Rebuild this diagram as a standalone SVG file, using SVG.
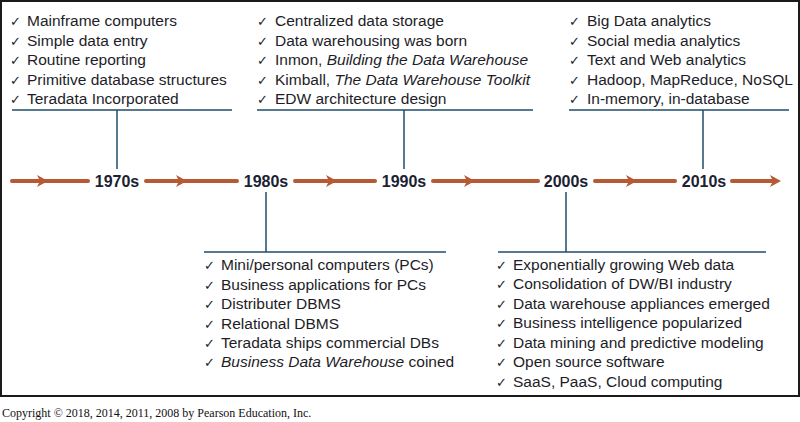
<svg xmlns="http://www.w3.org/2000/svg" width="800" height="422" viewBox="0 0 800 422">
<style>
.item{font-family:"Liberation Sans",Arial,sans-serif;font-size:15.5px;fill:#1d1d28}
.it{font-style:italic}
.chk{font-family:"DejaVu Sans",sans-serif;font-size:13px;fill:#1d1d28}
.year{font-family:"Liberation Sans",Arial,sans-serif;font-size:16px;font-weight:bold;fill:#1b2232;text-anchor:middle}
.conn{stroke:#1f4d6b;stroke-width:1.5;fill:none}
.tl{stroke:#b65a33;stroke-width:4;stroke-linecap:round;fill:none}
.ah{fill:#b65a33}
.copy{font-family:"Liberation Serif","Times New Roman",serif;font-size:12px;fill:#111}
</style>
<defs>
<path id="head" d="M-11,-6 L0,0 L-11,6 L-8,0 Z"/>
</defs>
<rect x="1" y="1" width="798" height="395" fill="#fff" stroke="#1a1a1a" stroke-width="2"/>

<g id="timeline">
<line class="tl" x1="12" y1="181" x2="88" y2="181"/>
<line class="tl" x1="146" y1="181" x2="237" y2="181"/>
<line class="tl" x1="295" y1="181" x2="375" y2="181"/>
<line class="tl" x1="433" y1="181" x2="538" y2="181"/>
<line class="tl" x1="595" y1="181" x2="675" y2="181"/>
<line class="tl" x1="732" y1="181" x2="772" y2="181"/>
<use href="#head" class="ah" x="48" y="181"/>
<use href="#head" class="ah" x="187" y="181"/>
<use href="#head" class="ah" x="337" y="181"/>
<use href="#head" class="ah" x="475" y="181"/>
<use href="#head" class="ah" x="637" y="181"/>
<use href="#head" class="ah" x="781" y="181"/>
</g>

<g id="connectors">
<line class="conn" x1="12" y1="110" x2="232" y2="110"/>
<line class="conn" x1="117" y1="110" x2="117" y2="169"/>
<line class="conn" x1="257" y1="110" x2="533" y2="110"/>
<line class="conn" x1="404" y1="110" x2="404" y2="169"/>
<line class="conn" x1="569" y1="110" x2="789" y2="110"/>
<line class="conn" x1="703" y1="110" x2="703" y2="169"/>
<line class="conn" x1="266" y1="192" x2="266" y2="252"/>
<line class="conn" x1="204" y1="252" x2="446" y2="252"/>
<line class="conn" x1="566" y1="192" x2="566" y2="252"/>
<line class="conn" x1="498" y1="252" x2="766" y2="252"/>
</g>

<g id="y1970"><text class="year" x="117" y="187">1970s</text></g>
<g id="y1980"><text class="year" x="266" y="187">1980s</text></g>
<g id="y1990"><text class="year" x="404" y="187">1990s</text></g>
<g id="y2000"><text class="year" x="566" y="187">2000s</text></g>
<g id="y2010"><text class="year" x="704" y="187">2010s</text></g>

<g id="list1970">
<text class="chk" x="10" y="26">✓</text><text class="item" x="27" y="26">Mainframe computers</text>
<text class="chk" x="10" y="45.5">✓</text><text class="item" x="27" y="45.5">Simple data entry</text>
<text class="chk" x="10" y="65">✓</text><text class="item" x="27" y="65">Routine reporting</text>
<text class="chk" x="10" y="84.5">✓</text><text class="item" x="27" y="84.5">Primitive database structures</text>
<text class="chk" x="10" y="104">✓</text><text class="item" x="27" y="104">Teradata Incorporated</text>
</g>

<g id="list1990">
<text class="chk" x="257" y="26">✓</text><text class="item" x="275" y="26">Centralized data storage</text>
<text class="chk" x="257" y="45.5">✓</text><text class="item" x="275" y="45.5">Data warehousing was born</text>
<text class="chk" x="257" y="65">✓</text><text class="item" x="275" y="65">Inmon, <tspan class="it">Building the Data Warehouse</tspan></text>
<text class="chk" x="257" y="84.5">✓</text><text class="item" x="275" y="84.5">Kimball, <tspan class="it">The Data Warehouse Toolkit</tspan></text>
<text class="chk" x="257" y="104">✓</text><text class="item" x="275" y="104">EDW architecture design</text>
</g>

<g id="list2010">
<text class="chk" x="569" y="26">✓</text><text class="item" x="587" y="26">Big Data analytics</text>
<text class="chk" x="569" y="45.5">✓</text><text class="item" x="587" y="45.5">Social media analytics</text>
<text class="chk" x="569" y="65">✓</text><text class="item" x="587" y="65">Text and Web analytics</text>
<text class="chk" x="569" y="84.5">✓</text><text class="item" x="587" y="84.5">Hadoop, MapReduce, NoSQL</text>
<text class="chk" x="569" y="104">✓</text><text class="item" x="587" y="104">In-memory, in-database</text>
</g>

<g id="list1980">
<text class="chk" x="204" y="270">✓</text><text class="item" x="221" y="270">Mini/personal computers (PCs)</text>
<text class="chk" x="204" y="289.5">✓</text><text class="item" x="221" y="289.5">Business applications for PCs</text>
<text class="chk" x="204" y="309">✓</text><text class="item" x="221" y="309">Distributer DBMS</text>
<text class="chk" x="204" y="328.5">✓</text><text class="item" x="221" y="328.5">Relational DBMS</text>
<text class="chk" x="204" y="348">✓</text><text class="item" x="221" y="348">Teradata ships commercial DBs</text>
<text class="chk" x="204" y="367">✓</text><text class="item" x="221" y="367"><tspan class="it">Business Data Warehouse</tspan> coined</text>
</g>

<g id="list2000">
<text class="chk" x="496" y="269.5">✓</text><text class="item" x="513" y="269.5">Exponentially growing Web data</text>
<text class="chk" x="496" y="289">✓</text><text class="item" x="513" y="289">Consolidation of DW/BI industry</text>
<text class="chk" x="496" y="308.5">✓</text><text class="item" x="513" y="308.5">Data warehouse appliances emerged</text>
<text class="chk" x="496" y="328">✓</text><text class="item" x="513" y="328">Business intelligence popularized</text>
<text class="chk" x="496" y="347.5">✓</text><text class="item" x="513" y="347.5">Data mining and predictive modeling</text>
<text class="chk" x="496" y="367">✓</text><text class="item" x="513" y="367">Open source software</text>
<text class="chk" x="496" y="386.5">✓</text><text class="item" x="513" y="386.5">SaaS, PaaS, Cloud computing</text>
</g>

<text class="copy" x="2" y="417">Copyright © 2018, 2014, 2011, 2008 by Pearson Education, Inc.</text>
</svg>
